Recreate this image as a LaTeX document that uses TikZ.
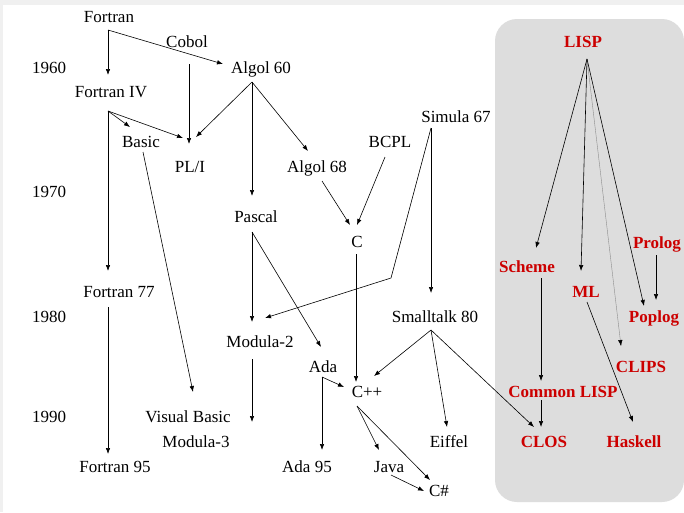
\documentclass[tikz,border=0pt]{standalone}
\usepackage{fontspec}
\setmainfont{Liberation Serif}
\usetikzlibrary{arrows.meta}
\definecolor{lispred}{RGB}{204,0,0}
\definecolor{boxgray}{RGB}{221,221,221}
\definecolor{framegray}{RGB}{240,240,240}
\begin{document}
\begin{tikzpicture}[x=1pt,y=-1pt,
  lang/.style={anchor=base, inner sep=0pt, font=\fontsize{17}{20}\selectfont},
  lisplang/.style={anchor=base, inner sep=0pt, font=\fontsize{17}{20}\selectfont\bfseries, text=lispred},
  arr/.style={-{Latex[length=6pt,width=4.5pt]}, line width=0.6pt, draw=black},
  faint/.style={-{Latex[length=6pt,width=4.5pt,color=black]}, line width=0.4pt, draw=black!45}]
\useasboundingbox (0,0) rectangle (684,512);
\fill[framegray] (0,0) rectangle (684,512);
\fill[white] (3,5) rectangle (684,512);
\fill[boxgray, rounded corners=22pt] (495,19) rectangle (684,502);

% years
\node[lang] (y1960) at (49,73) {1960};
\node[lang] (y1970) at (49,197) {1970};
\node[lang] (y1980) at (49,322) {1980};
\node[lang] (y1990) at (49,422) {1990};

% languages
\node[lang] (fortran) at (109,22) {Fortran};
\node[lang] (cobol) at (187,47) {Cobol};
\node[lang] (algol60) at (261,73) {Algol 60};
\node[lang] (fortraniv) at (111,97) {Fortran IV};
\node[lang] (simula) at (456,122) {Simula 67};
\node[lang] (basic) at (141,147) {Basic};
\node[lang] (bcpl) at (390,147) {BCPL};
\node[lang] (pli) at (190,172) {PL/I};
\node[lang] (algol68) at (317,172) {Algol 68};
\node[lang] (pascal) at (256,222) {Pascal};
\node[lang] (c) at (357,247) {C};
\node[lang] (fortran77) at (119,297) {Fortran 77};
\node[lang] (smalltalk) at (435,322) {Smalltalk 80};
\node[lang] (modula2) at (260,347) {Modula-2};
\node[lang] (ada) at (323,372) {Ada};
\node[lang] (cpp) at (367,397) {C++};
\node[lang] (visualbasic) at (188,422) {Visual Basic};
\node[lang] (modula3) at (196,447) {Modula-3};
\node[lang] (eiffel) at (449,447) {Eiffel};
\node[lang] (fortran95) at (115,472) {Fortran 95};
\node[lang] (ada95) at (307,472) {Ada 95};
\node[lang] (java) at (389,472) {Java};
\node[lang] (csharp) at (439,496) {C\#};

% lisp family
\node[lisplang] (lisp) at (583,47) {LISP};
\node[lisplang] (prolog) at (657,248) {Prolog};
\node[lisplang] (scheme) at (527,272) {Scheme};
\node[lisplang] (ml) at (586,297) {ML};
\node[lisplang] (poplog) at (654,322) {Poplog};
\node[lisplang] (clips) at (641,372) {CLIPS};
\node[lisplang] (commonlisp) at (563,397) {Common LISP};
\node[lisplang] (clos) at (544,447) {CLOS};
\node[lisplang] (haskell) at (634,447) {Haskell};

\coordinate (simbend) at (391,278);
\coordinate (m2end) at (252,422);

% connectors
\draw[arr] ([shift={(-1,8)}]fortran.base) -- ([shift={(-3,-22)}]fortraniv.base);
\draw[arr] ([shift={(-1,8)}]fortran.base) -- ([shift={(-38,-9)}]algol60.base);
\draw[arr] ([shift={(2,17)}]cobol.base) -- ([shift={(-1,-28)}]pli.base);
\draw[arr] ([shift={(-9,9)}]algol60.base) -- ([shift={(6,-35)}]pli.base);
\draw[arr] ([shift={(-9,9)}]algol60.base) -- ([shift={(-4,-26)}]pascal.base);
\draw[arr] ([shift={(-9,9)}]algol60.base) -- ([shift={(-9,-21)}]algol68.base);
\draw[arr] ([shift={(-3,14)}]fortraniv.base) -- ([shift={(-11,-20)}]basic.base);
\draw[arr] ([shift={(-3,14)}]fortraniv.base) -- ([shift={(-7,-34)}]pli.base);
\draw[arr] ([shift={(-3,14)}]fortraniv.base) -- ([shift={(-11,-26)}]fortran77.base);
\draw[arr] ([shift={(2,5)}]basic.base) -- ([shift={(5,-30)}]visualbasic.base);
\draw[arr] ([shift={(-4,10)}]pascal.base) -- ([shift={(-8,-25)}]modula2.base);
\draw[arr] ([shift={(-4,10)}]pascal.base) -- ([shift={(-2,-25)}]ada.base);
\draw[arr] ([shift={(5,9)}]algol68.base) -- ([shift={(-7,-22)}]c.base);
\draw[arr] ([shift={(-5,10)}]bcpl.base) -- ([shift={(0,-22)}]c.base);
\draw[arr] ([shift={(-25,6)}]simula.base) -- (simbend) -- ([shift={(5,-29)}]modula2.base);
\draw[arr] ([shift={(-25,6)}]simula.base) -- ([shift={(-4,-29)}]smalltalk.base);
\draw[arr] ([shift={(-1,7)}]c.base) -- ([shift={(-11,-15)}]cpp.base);
\draw[arr] ([shift={(-1,5)}]ada.base) -- ([shift={(-23,-10)}]cpp.base);
\draw[arr] ([shift={(-1,5)}]ada.base) -- ([shift={(15,-22)}]ada95.base);
\draw[arr] ([shift={(-4,8)}]smalltalk.base) -- ([shift={(7,-21)}]cpp.base);
\draw[arr] ([shift={(-4,8)}]smalltalk.base) -- ([shift={(-2,-20)}]eiffel.base);
\draw[arr] ([shift={(-4,8)}]smalltalk.base) -- ([shift={(-10,-20)}]clos.base);
\draw[arr] ([shift={(-10,9)}]cpp.base) -- ([shift={(-10,-22)}]java.base);
\draw[arr] ([shift={(-10,9)}]cpp.base) -- ([shift={(-9,-16)}]csharp.base);
\draw[arr] ([shift={(2,3)}]java.base) -- ([shift={(-15,-5)}]csharp.base);
\draw[arr] ([shift={(-8,12)}]modula2.base) -- (m2end);
\draw[arr] ([shift={(-11,10)}]fortran77.base) -- ([shift={(-7,-18)}]fortran95.base);

\draw[arr] ([shift={(4,12)}]lisp.base) -- ([shift={(9,-24)}]scheme.base);
\draw[arr] ([shift={(4,12)}]lisp.base) -- ([shift={(-5,-26)}]ml.base);
\draw[faint] ([shift={(4,12)}]lisp.base) -- ([shift={(-20,-26)}]clips.base);
\draw[arr] ([shift={(4,12)}]lisp.base) -- ([shift={(-10,-16)}]poplog.base);
\draw[arr] ([shift={(-1,7)}]prolog.base) -- ([shift={(2,-22)}]poplog.base);
\draw[arr] ([shift={(14,6)}]scheme.base) -- ([shift={(-22,-16)}]commonlisp.base);
\draw[arr] ([shift={(-22,3)}]commonlisp.base) -- ([shift={(-3,-20)}]clos.base);
\draw[arr] ([shift={(1,5)}]ml.base) -- ([shift={(-1,-25)}]haskell.base);
\end{tikzpicture}
\end{document}
